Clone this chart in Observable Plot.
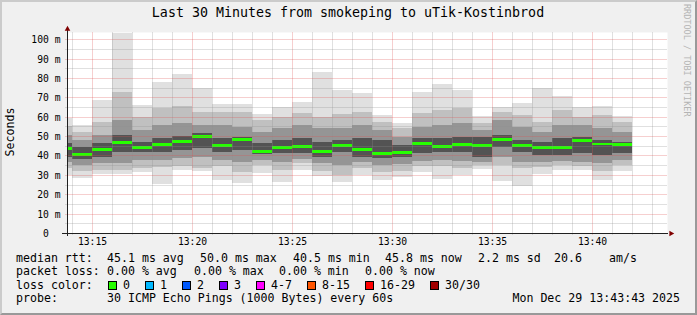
<!DOCTYPE html>
<html>
<head>
<meta charset="utf-8">
<script src="https://cdn.jsdelivr.net/npm/d3@7"></script>
<script src="https://cdn.jsdelivr.net/npm/@observablehq/plot@0.6"></script>
<style>
html,body{margin:0;padding:0;background:#f0f0f0;}
#wrap{position:relative;width:697px;height:315px;background:#f0f0f0;overflow:hidden;font-family:"DejaVu Sans Mono",monospace;color:#000;}
#wrap svg{position:absolute;left:0;top:0;}
.t{position:absolute;white-space:pre;line-height:1;}
.box{position:absolute;width:7px;height:7px;border:1px solid #000;}
#shade{position:absolute;left:0;top:0;width:697px;height:315px;box-sizing:border-box;border-style:solid;border-width:2px;border-color:#cbcbcb #999 #999 #cbcbcb;pointer-events:none;}
</style>
</head>
<body>
<div id="wrap"></div>
<script>
// ---- data ----
const colEnd = ["13:14","13:15","13:16","13:17","13:18","13:19","13:20","13:21","13:22","13:23",
  "13:24","13:25","13:26","13:27","13:28","13:29","13:30","13:31","13:32","13:33",
  "13:34","13:35","13:36","13:37","13:38","13:39","13:40","13:41","13:42"];
const pMin = [30.0,28.5,30.2,30.3,31.6,25.3,32.6,31.9,27.2,26.0,30.8,26.4,32.4,29.3,26.2,29.7,27.6,29.0,31.4,27.8,29.7,32.8,26.7,24.4,30.3,32.4,32.4,27.2,31.9];
const p10  = [33.4,32.0,32.6,32.6,33.7,34.2,34.7,33.7,34.7,31.6,35.0,32.6,35.9,32.0,29.8,33.7,31.6,32.0,34.7,34.7,33.4,35.0,35.0,33.4,34.2,35.0,34.7,32.0,35.0];
const p25  = [36.8,35.0,36.0,36.0,37.6,37.6,38.5,39.3,37.6,36.8,37.6,36.8,38.1,36.0,35.0,36.8,35.0,35.4,37.2,37.6,37.2,36.8,39.3,36.8,36.8,37.2,36.8,36.0,37.6];
const p40  = [39.4,38.2,39.3,41.6,41.6,42.0,42.8,44.0,42.0,42.8,40.6,41.1,41.1,39.3,41.6,39.3,38.5,39.3,41.1,42.0,41.6,39.3,44.5,41.6,40.2,40.2,41.1,40.2,41.1];
const pMed = [43.5,40.5,43.0,46.8,44.0,45.7,47.1,50.0,45.3,48.3,42.2,44.0,44.7,41.9,45.2,43.3,41.0,41.6,46.0,44.8,45.7,45.0,48.1,45.0,44.3,44.3,47.6,45.9,45.8];
const p60  = [46.3,44.5,46.2,50.6,47.1,48.8,50.2,51.5,48.8,49.7,46.3,48.0,48.8,47.1,48.0,48.8,48.0,45.4,48.8,48.8,49.7,49.7,50.6,48.0,47.1,48.8,49.7,48.0,46.8];
const p75  = [50.5,48.0,50.5,58.3,53.2,55.7,56.6,55.7,55.7,54.9,52.3,54.0,55.7,54.0,54.0,55.7,53.2,49.7,54.9,55.7,56.6,53.2,58.3,54.9,52.3,55.7,55.7,54.0,52.3];
const p90  = [55.0,52.3,57.4,73.0,60.0,64.3,65.7,62.6,62.6,62.6,58.3,60.0,61.7,60.0,61.2,62.6,57.4,54.0,61.7,63.5,64.3,56.6,62.6,60.9,57.4,63.5,60.0,60.9,57.4];
const pMax = [59.5,55.5,68.6,103.3,65.9,77.8,82.0,75.0,66.4,66.4,61.2,64.8,67.6,83.1,73.8,72.2,60.7,56.6,72.8,76.7,73.8,60.2,64.8,67.1,74.7,70.5,64.8,65.4,60.5];
const yTicks = [0,10,20,30,40,50,60,70,80,90,100];
const yMinorTicks = [5,15,25,35,45,55,65,75,85,95];
const xTickLabels = ["13:15","13:20","13:25","13:30","13:35","13:40"];
const lossLabels = ["0","1","2","3","4-7","8-15","16-29","30/30"];
const lossColors = ["#26ff00","#00b8ff","#0059ff","#7e00ff","#ff00ff","#ff5500","#ff0000","#a10000"];
const titleText = "Last 30 Minutes from smokeping to uTik-Kostinbrod";
const rttStats = ["45.1 ms avg","50.0 ms max","40.5 ms min","45.8 ms now","2.2 ms sd","20.6","am/s"];
const lossStats = ["0.00 % avg","0.00 % max","0.00 % min","0.00 % now"];
const probeText = "30 ICMP Echo Pings (1000 Bytes) every 60s";
const stampText = "Mon Dec 29 13:43:43 2025";

// ---- build ----
const day = (hm, s = 0) => new Date(Date.UTC(2025, 11, 29, +hm.slice(0, 2), +hm.slice(3, 5), s));
const t0 = day("13:13", 45), t1 = day("13:43", 45);
const rows = colEnd.map((e, i) => ({
  x1: new Date(+day(e) - 60000), x2: day(e),
  min: pMin[i], p10: p10[i], p25: p25[i], p40: p40[i], med: pMed[i],
  p60: p60[i], p75: p75[i], p90: p90[i], max: pMax[i]
}));
const xTicks = xTickLabels.map(s => day(s));
const majorSet = new Set(xTicks.map(d => +d));
const xMinor = d3.utcMinute.range(t0, t1).filter(d => !majorSet.has(+d));
const labelOf = new Map(xTicks.map((d, i) => [+d, xTickLabels[i]]));

const bands = [["min","max","#e0e0e0"],["p10","p90","#c0c0c0"],["p25","p75","#959595"],["p40","p60","#535353"]];
const gridMinor = {stroke: "#8f8f8f", strokeOpacity: 0.55, strokeWidth: 1, strokeDasharray: "1 1", strokeDashoffset: 0.5};
const gridMajor = {stroke: "#e05050", strokeOpacity: 0.55, strokeWidth: 1, strokeDasharray: "1 1", strokeDashoffset: 0.5};

const chart = Plot.plot({
  width: 697, height: 250,
  marginLeft: 67, marginRight: 30, marginTop: 32, marginBottom: 17,
  style: {background: "transparent", fontFamily: "DejaVu Sans Mono", fontSize: "9.7px", color: "#000", overflow: "visible"},
  x: {type: "utc", domain: [t0, t1], round: true},
  y: {domain: [0, 103.7], round: true},
  marks: [
    Plot.frame({fill: "#fff", stroke: null}),
    ...bands.map(([lo, hi, c]) => Plot.rect(rows, {x1: "x1", x2: "x2", y1: lo, y2: hi, fill: c, clip: true})),
    Plot.rect(rows, {x1: "x1", x2: "x2", y1: d => d.med - 0.75, y2: d => d.med + 0.75, fill: lossColors[0], clip: true}),
    Plot.ruleX(xMinor, {...gridMinor, insetBottom: -2}),
    Plot.ruleX(xTicks, {...gridMajor, insetBottom: -2}),
    Plot.ruleY(yMinorTicks, {x1: t0, x2: t1, ...gridMinor, insetLeft: -2}),
    Plot.ruleY(yTicks.filter(v => v > 0), {x1: t0, x2: t1, ...gridMajor, insetLeft: -2}),
    Plot.ruleY([0], {stroke: "#202020", insetLeft: -5, insetRight: -1}),
    Plot.ruleX([t0], {stroke: "#202020", insetTop: -3, insetBottom: -3}),
    Plot.dot([t0], {x: d => d, frameAnchor: "top", dy: -3.5, symbol: "triangle", r: 2.1, fill: "#800000", stroke: null}),
    Plot.dot([0], {y: d => d, frameAnchor: "right", dx: 3.5, symbol: "triangle", r: 2.1, rotate: 90, fill: "#800000", stroke: null}),
    Plot.axisY(yTicks, {tickSize: 0, tickPadding: 7, label: null, tickFormat: v => v === 0 ? "0\u00a0\u00a0" : v + " m"}),
    Plot.axisX(xTicks, {tickSize: 0, tickPadding: 4.5, label: null, tickFormat: d => labelOf.get(+d)})
  ]
});

const wrap = document.getElementById("wrap");
wrap.appendChild(chart);

function put(text, x, cy, size, opts = {}) {
  const el = document.createElement("div");
  el.className = "t";
  el.textContent = text;
  el.style.fontSize = size + "px";
  el.style.top = (cy - size / 2) + "px";
  if (opts.anchor === "end") { el.style.right = (697 - x) + "px"; }
  else if (opts.anchor === "middle") { el.style.left = x + "px"; el.style.transform = "translateX(-50%)"; }
  else el.style.left = x + "px";
  if (opts.color) el.style.color = opts.color;
  wrap.appendChild(el);
  return el;
}

// title
put(titleText, 348, 13, 13.3, {anchor: "middle"});
// y label
const yl = put("Seconds", 11, 132, 11.6);
yl.style.left = "11px"; yl.style.top = "132px";
yl.style.transform = "translate(-50%,-50%) rotate(-90deg)";
// watermark
const wm = put("RRDTOOL / TOBI OETIKER", 0, 0, 8.5, {color: "#b4b4b4"});
wm.style.left = (687 + 4.25) + "px"; wm.style.top = "4px";
wm.style.transformOrigin = "0 0"; wm.style.transform = "rotate(90deg)";

// legend
const fs = 11.6;
const rowY = [259, 272, 285.5, 299];
put("median rtt:", 16, rowY[0], fs);
[107, 200, 293, 385, 478, 554, 609].forEach((x, i) => put(rttStats[i], x, rowY[0], fs));
put("packet loss:", 16, rowY[1], fs);
[107, 194, 279, 365].forEach((x, i) => put(lossStats[i], x, rowY[1], fs));
put("loss color:", 16, rowY[2], fs);
const boxX = [108, 145, 182, 219, 256, 307, 365, 430];
boxX.forEach((x, i) => {
  const b = document.createElement("div");
  b.className = "box";
  b.style.left = x + "px"; b.style.top = (rowY[2] - 4.5) + "px";
  b.style.background = lossColors[i];
  wrap.appendChild(b);
  put(lossLabels[i], x + 15, rowY[2], fs);
});
put("probe:", 16, rowY[3], fs);
put(probeText, 107, rowY[3], fs);
put(stampText, 680, rowY[3], fs, {anchor: "end"});

const sh = document.createElement("div");
sh.id = "shade";
wrap.appendChild(sh);
</script>
</body>
</html>
